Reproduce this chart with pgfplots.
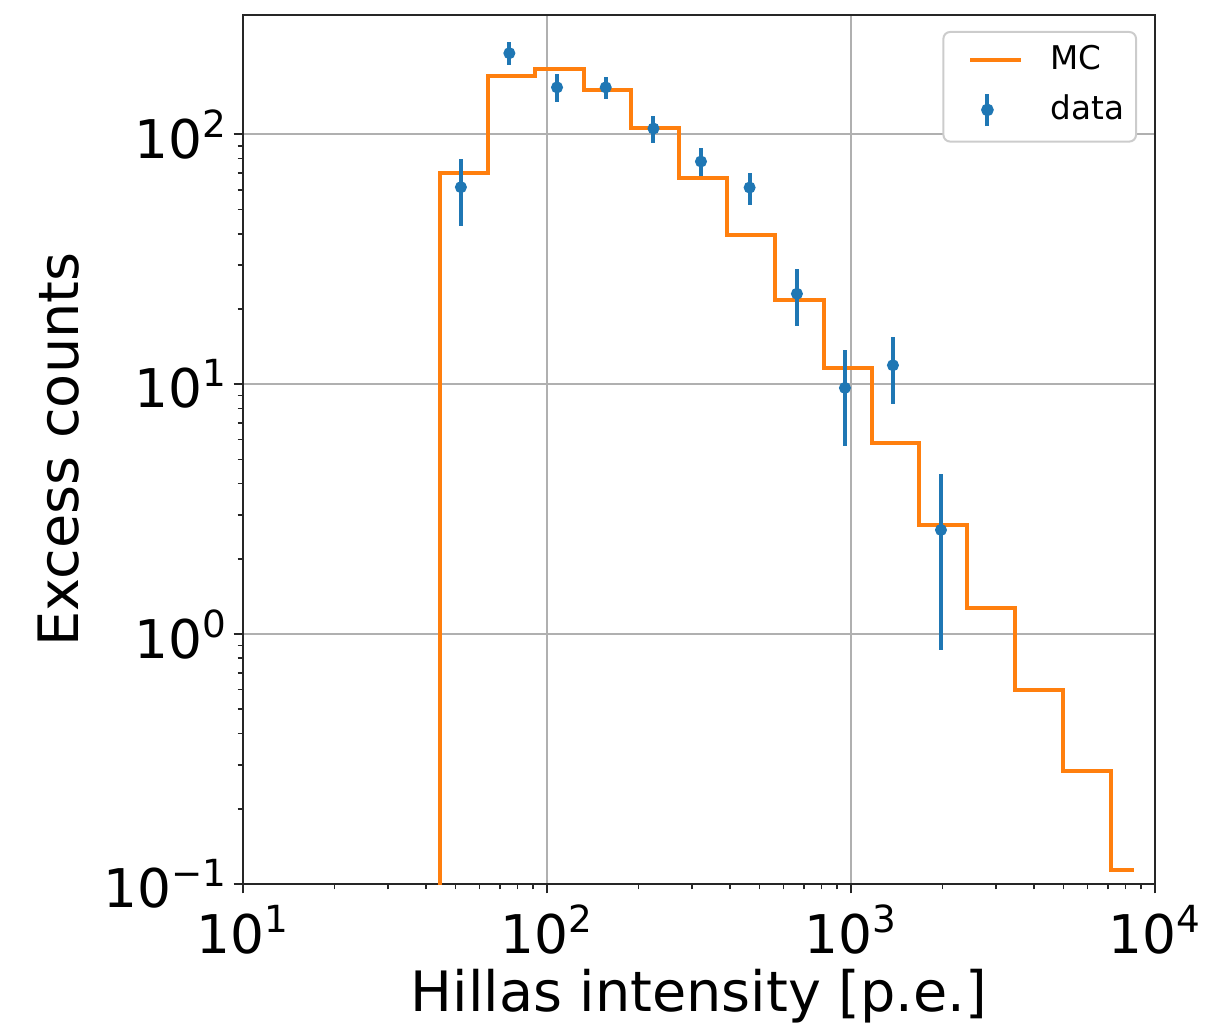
\documentclass[border=0pt]{standalone}
\usepackage{fontspec}
\setmainfont{DejaVu Sans}
\usepackage{pgfplots}
\pgfplotsset{compat=1.18}
\definecolor{mplblue}{HTML}{1F77B4}
\definecolor{mplorange}{HTML}{FF7F0E}
\definecolor{mplgrid}{HTML}{B0B0B0}

\pgfplotstableread{
x      y
44.5   0.01
44.5   69.8
63.8   171
91.5   182
132.0  150
189.4  106
272.4  67.1
391.9  39.7
563.6  21.7
815    11.6
1170   5.79
1674   2.73
2413   1.27
3464   0.595
4971   0.284
7168   0.1135
8551   0.1135
}\mc

\pgfplotstableread{
x     y      e
52.1  61.4   18.3
75.2  211    22.5
107.9 154    19.5
156   154    16
224   105.4  13
321   77.8   10
464   61.2   9
664   23.0   5.9
955   9.66   4.0
1374  11.9   3.6
1977  2.61   1.75
}\data

\begin{document}
\begin{tikzpicture}
\begin{axis}[
  name=main,
  scale only axis, width=273.6pt, height=260.7pt,
  xmode=log, ymode=log, log basis x=10, log basis y=10,
  xmin=10, xmax=10000, ymin=0.1, ymax=300,
  grid=major, major grid style={mplgrid, line width=0.6pt},
  axis line style={line width=0.6pt, black!85},
  tick align=outside, tick pos=left,
  major tick length=2.8pt, minor tick length=1.6pt,
  every tick/.style={black!85, line width=0.5pt},
  ticklabel style={font=\fontsize{16}{19}\selectfont},
  xticklabel style={inner xsep=0pt},
  yticklabel style={xshift=1.8pt},
  xticklabel={10\textsuperscript{\pgfmathparse{int(round(\tick))}\pgfmathresult}},
  yticklabel={10\textsuperscript{\ifdim\tick pt<0pt −\fi\pgfmathparse{int(abs(round(\tick)))}\pgfmathresult}},
  xlabel={Hillas intensity [p.e.]},
  ylabel={Excess counts},
  xlabel style={at={(rel axis cs:0.5,0)}, anchor=base, yshift=-38.2pt, inner sep=0pt,
    font=\fontsize{16.7}{19}\selectfont},
  ylabel style={at={(rel axis cs:0,0.5)}, anchor=center, yshift=55.2pt, inner sep=0pt,
    font=\fontsize{16.7}{19}\selectfont},
  legend style={at={(rel axis cs:1,1)}, xshift=-5.4pt, yshift=-4.8pt, anchor=north east,
    draw=black!20, line width=0.6pt, rounded corners=2pt, font=\fontsize{9.8}{11}\selectfont,
    inner xsep=3.6pt, inner ysep=4pt, row sep=5.1pt, column sep=8.1pt,
    nodes={inner sep=0pt}},
  legend cell align=left,
]
\addplot[const plot, mplorange, line width=1.2pt,
  legend image code/.code={\path[draw=none] (0pt,0pt) -- (4.5pt,0pt);
    \draw[mplorange, line width=1.2pt] (4.5pt,0pt) -- (19.8pt,0pt);}]
  table[x=x, y=y] {\mc};
\addlegendentry{MC}
\addplot[only marks, mplblue, mark=*, mark size=1.6pt,
  legend image code/.code={\path[draw=none] (0pt,0pt) -- (19.8pt,0pt);
    \draw[mplblue, line width=1.2pt] (9.6pt,-4.9pt) -- (9.6pt,4.9pt);
    \fill[mplblue] (9.6pt,0pt) circle (1.6pt);},
  error bars/.cd, y dir=both, y explicit, error mark=none,
  error bar style={line width=1.2pt, mplblue}]
  table[x=x, y=y, y error=e] {\data};
\addlegendentry{data}
\end{axis}
\path (main.south west) ++(-72.9pt,-42.3pt) coordinate (bb1);
\path (main.north east) ++(16.2pt,4.5pt) coordinate (bb2);
\path (bb1) rectangle (bb2);
\end{tikzpicture}
\end{document}
